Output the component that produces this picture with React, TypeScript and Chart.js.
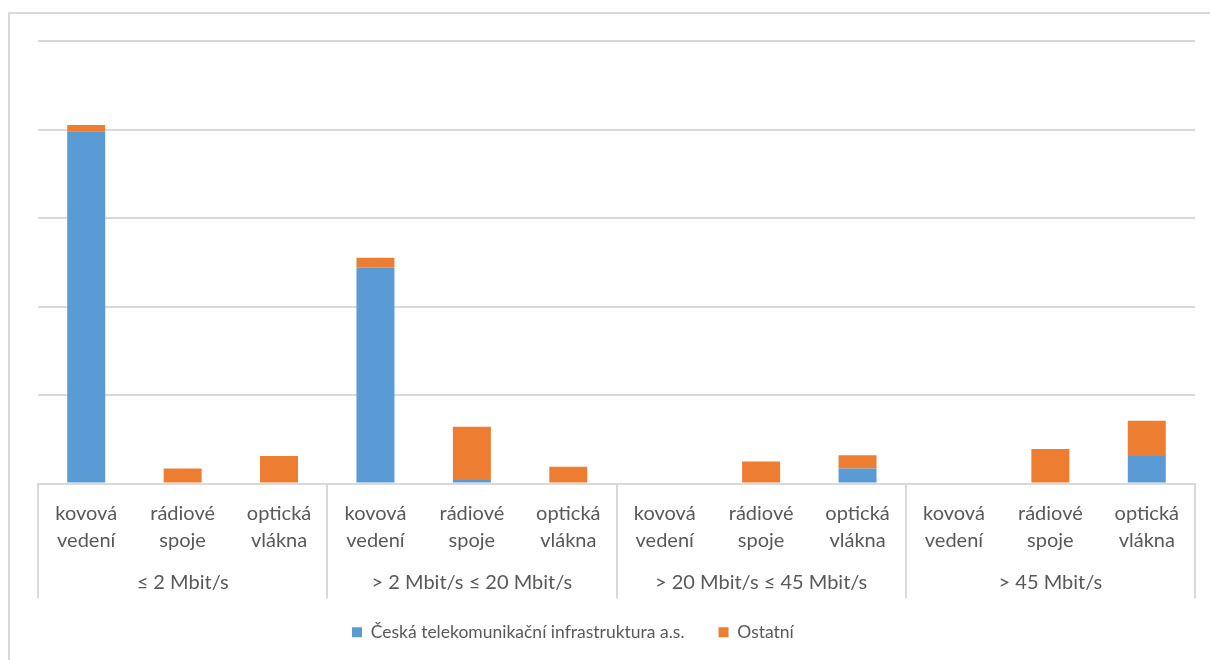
import React, { useEffect, useRef } from 'react';
import { Chart, registerables } from 'chart.js';

Chart.register(...registerables);

const subCategories: string[][] = [
  ['kovová', 'vedení'],
  ['rádiové', 'spoje'],
  ['optická', 'vlákna'],
];
const groupLabels: string[] = [
  '≤ 2 Mbit/s',
  '> 2 Mbit/s ≤ 20 Mbit/s',
  '> 20 Mbit/s ≤ 45 Mbit/s',
  '> 45 Mbit/s',
];
const categoryLabels: string[][] = groupLabels.flatMap(() => subCategories);
const seriesNames: string[] = ['Česká telekomunikační infrastruktura a.s.', 'Ostatní'];
const cetinValues: (number | null)[] = [3.98, null, null, 2.44, 0.04, null, null, null, 0.17, null, null, 0.31];
const ostatniValues: (number | null)[] = [0.07, 0.17, 0.31, 0.11, 0.6, 0.19, null, 0.25, 0.15, null, 0.39, 0.4];
const yMax = 5;
const yStep = 1;

const FONT = 'Lato';
const TEXT = '#595959';
const GRID = '#d9d9d9';
const LEGEND_START_X = 352;
const LEGEND_DY = -9;

const separatorPlugin = {
  id: 'groupSeparators',
  afterDraw(chart: any) {
    const { ctx, chartArea, scales } = chart;
    const x = scales.x;
    const x2 = scales.x2;
    const per = subCategories.length;
    ctx.save();
    ctx.strokeStyle = GRID;
    ctx.lineWidth = 2;
    for (let g = 0; g <= groupLabels.length; g++) {
      const px = Math.round(x.getPixelForValue(g * per - 0.5));
      ctx.beginPath();
      ctx.moveTo(px, chartArea.bottom);
      ctx.lineTo(px, x2.bottom);
      ctx.stroke();
    }
    ctx.restore();
  },
};

const legendShiftPlugin = {
  id: 'legendShift',
  afterLayout(chart: any) {
    const lg = chart.legend;
    if (!lg || !lg.lineWidths) return;
    const pad = lg.options.labels.padding;
    const start = (lg.left + pad + lg.right - lg.lineWidths[0]) / 2;
    const dx = LEGEND_START_X - start;
    lg.left += dx;
    lg.right += dx;
    lg.top += LEGEND_DY;
    lg.bottom += LEGEND_DY;
  },
};

export default function App() {
  const ref = useRef<HTMLCanvasElement | null>(null);
  useEffect(() => {
    if (!ref.current) return;
    const chart = new Chart(ref.current, {
      type: 'bar',
      data: {
        labels: categoryLabels as any,
        datasets: [
          {
            label: seriesNames[0],
            data: cetinValues,
            backgroundColor: '#5b9bd5',
            borderWidth: 0,
          },
          {
            label: seriesNames[1],
            data: ostatniValues,
            backgroundColor: '#ed7d31',
            borderWidth: 0,
          },
        ],
      },
      options: {
        responsive: false,
        animation: false,
        devicePixelRatio: 1,
        datasets: { bar: { categoryPercentage: 1, barPercentage: 0.394 } } as any,
        layout: { padding: { left: 38, right: 15, top: 41, bottom: 0 } },
        scales: {
          x: {
            stacked: true,
            offset: true,
            grid: { display: false, drawTicks: false },
            border: { display: true, color: GRID, width: 2 },
            ticks: {
              color: TEXT,
              font: { family: FONT, size: 20, lineHeight: 1.35 },
              padding: 17,
              maxRotation: 0,
              autoSkip: false,
            },
            afterFit(scale: any) {
              scale.height = 80;
            },
          },
          x2: {
            type: 'category',
            position: 'bottom',
            labels: groupLabels,
            offset: true,
            grid: { display: false, drawTicks: false },
            border: { display: false },
            ticks: {
              color: TEXT,
              font: { family: FONT, size: 20, lineHeight: 1.35 },
              padding: 6,
              maxRotation: 0,
              autoSkip: false,
            },
            afterFit(scale: any) {
              scale.height = 35;
            },
          },
          y: {
            stacked: true,
            min: 0,
            max: yMax,
            ticks: { display: false, stepSize: yStep },
            grid: { color: GRID, lineWidth: 2, drawTicks: false },
            border: { display: false },
            afterFit(scale: any) {
              scale.width = 0;
            },
          },
        },
        plugins: {
          legend: {
            position: 'bottom',
            labels: {
              color: TEXT,
              font: { family: FONT, size: 17.5 },
              boxWidth: 10,
              boxHeight: 10,
              padding: 34,
            },
          },
          tooltip: { enabled: false },
        },
      },
      plugins: [separatorPlugin, legendShiftPlugin],
    });
    return () => chart.destroy();
  }, []);

  return (
    <div style={{ position: 'fixed', left: 0, top: 0, width: 1210, height: 660, overflow: 'hidden', background: '#fff' }}>
      <div
        style={{
          position: 'absolute',
          left: 8,
          top: 12,
          width: 1300,
          height: 800,
          border: `2px solid ${GRID}`,
          boxSizing: 'border-box',
        }}
      />
      <canvas ref={ref} width={1210} height={660} style={{ position: 'absolute', left: 0, top: 0 }} />
    </div>
  );
}
